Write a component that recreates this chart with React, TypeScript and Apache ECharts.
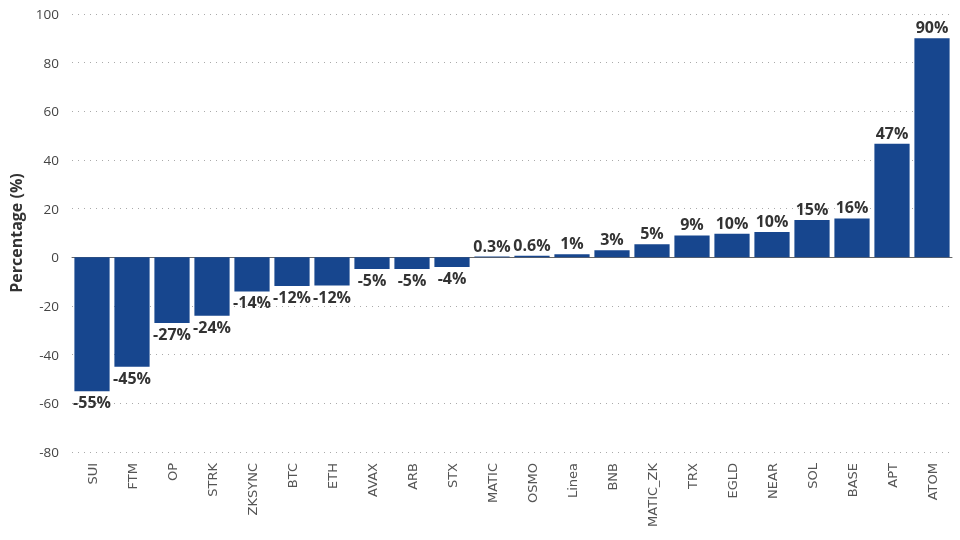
import React, { useEffect, useRef } from "react";
import * as echarts from "echarts";

const categories = ["SUI", "FTM", "OP", "STRK", "ZKSYNC", "BTC", "ETH", "AVAX", "ARB", "STX", "MATIC", "OSMO", "Linea", "BNB", "MATIC_ZK", "TRX", "EGLD", "NEAR", "SOL", "BASE", "APT", "ATOM"];
const values = [-55, -45, -27, -24, -14, -11.8, -11.6, -4.8, -4.8, -4.0, 0.3, 0.6, 1.3, 2.9, 5.4, 9.0, 9.7, 10.4, 15.3, 16.0, 46.7, 90.0];
const yTicks = { min: -80, max: 100, interval: 20 };

const fmt = (v: number) => (Math.abs(v) < 1 ? v.toFixed(1) : String(Math.round(v))) + "%";

export default function App() {
  const ref = useRef<HTMLDivElement>(null);
  useEffect(() => {
    if (!ref.current) return;
    const chart = echarts.init(ref.current, null, { renderer: "svg" });
    chart.setOption({
      animation: false,
      grid: { left: 72, right: 8, top: 14, bottom: 88 },
      xAxis: [
        {
          type: "category",
          data: categories,
          axisLine: { show: true, onZero: true, lineStyle: { color: "#666", width: 1 } },
          axisTick: { show: false },
          axisLabel: { show: false },
          splitLine: { show: false },
        },
        {
          type: "category",
          data: categories,
          position: "bottom",
          axisLine: { show: false, onZero: false },
          axisTick: { show: false },
          axisLabel: {
            rotate: 90,
            margin: 11,
            interval: 0,
            color: "#555",
            fontFamily: "DejaVu Sans",
            fontSize: 13,
          },
        },
      ],
      yAxis: {
        type: "value",
        min: yTicks.min,
        max: yTicks.max,
        interval: yTicks.interval,
        name: "Percentage (%)",
        nameLocation: "middle",
        nameGap: 48,
        nameTextStyle: { fontFamily: "Open Sans", fontWeight: "bold", fontSize: 16, color: "#333" },
        axisLine: { show: false },
        axisTick: { show: false },
        axisLabel: { color: "#444", fontFamily: "Open Sans", fontSize: 13.5, margin: 13 },
        splitLine: { show: true, lineStyle: { color: "#aaa", type: [1, 5], width: 1 } },
      },
      series: [
        {
          type: "bar",
          xAxisIndex: 0,
          data: values.map((v) => ({
            value: v,
            label: { position: v < 0 ? "bottom" : "top" },
          })),
          barCategoryGap: "12%",
          itemStyle: { color: "#17468E" },
          label: {
            show: true,
            formatter: (p: any) => fmt(p.value),
            fontFamily: "Open Sans",
            fontWeight: "bold",
            fontSize: 16,
            color: "#333",
            distance: 3,
          },
        },
      ],
    });
    return () => chart.dispose();
  }, []);
  return <div ref={ref} style={{ position: "fixed", left: 0, top: 0, width: 960, height: 540 }} />;
}
